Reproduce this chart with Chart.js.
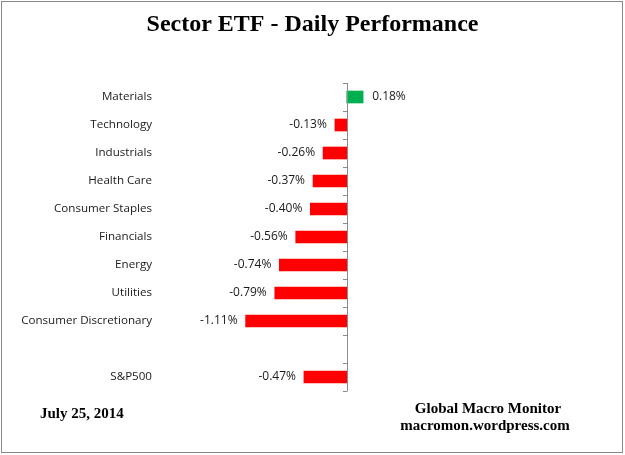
<!DOCTYPE html>
<html>
<head>
<meta charset="utf-8">
<title>Sector ETF - Daily Performance</title>
<script src="https://cdn.jsdelivr.net/npm/chart.js@4.4.1/dist/chart.umd.min.js"></script>
<style>
  html, body { margin: 0; padding: 0; background: #fff; }
  #wrap { width: 625px; height: 455px; position: relative; }
</style>
</head>
<body>
<div id="wrap"><canvas id="sectorChart" width="625" height="455"></canvas></div>
<script>
const titleText = "Sector ETF - Daily Performance";
const dateText = "July 25, 2014";
const sourceLines = ["Global Macro Monitor", "macromon.wordpress.com"];

// blank slot before S&P500 is on purpose (gap in the original)
const sectors = ["Materials", "Technology", "Industrials", "Health Care", "Consumer Staples",
  "Financials", "Energy", "Utilities", "Consumer Discretionary", "", "S&P500"];
const changes = [0.18, -0.13, -0.26, -0.37, -0.40, -0.56, -0.74, -0.79, -1.11, null, -0.47];

const upColor = "#00b050";
const downColor = "#ff0000";
const labelFont = "'Open Sans', 'DejaVu Sans', sans-serif";
const serifFont = "'Liberation Serif', 'Times New Roman', serif";

const decorPlugin = {
  id: "decor",
  afterDatasetsDraw(chart) {
    const ctx = chart.ctx;
    const meta = chart.getDatasetMeta(0);
    ctx.save();
    ctx.font = "12px " + labelFont;
    ctx.fillStyle = "#1a1a1a";
    ctx.textBaseline = "middle";
    meta.data.forEach((bar, i) => {
      const v = changes[i];
      if (v === null) return;
      const txt = v.toFixed(2) + "%";
      if (v < 0) {
        ctx.textAlign = "right";
        ctx.fillText(txt, bar.x - 8, bar.y);
      } else {
        ctx.textAlign = "left";
        ctx.fillText(txt, bar.x + 9, bar.y);
      }
    });
    ctx.restore();
  },
  afterDraw(chart) {
    const ctx = chart.ctx;
    const x = chart.scales.x;
    const y = chart.scales.y;
    const x0 = x.getPixelForValue(0);
    const n = sectors.length;
    const step = (y.bottom - y.top) / n;

    ctx.save();
    // zero axis with tick marks between categories
    ctx.strokeStyle = "#8c8c8c";
    ctx.lineWidth = 1;
    ctx.beginPath();
    ctx.moveTo(Math.round(x0) + 0.5, y.top);
    ctx.lineTo(Math.round(x0) + 0.5, y.bottom);
    for (let i = 0; i <= n; i++) {
      const ty = Math.round(y.top + i * step) + 0.5;
      ctx.moveTo(Math.round(x0) - 4, ty);
      ctx.lineTo(Math.round(x0) + 0.5, ty);
    }
    ctx.stroke();

    // outer frame
    ctx.strokeStyle = "#888888";
    ctx.strokeRect(1.5, 1.5, chart.width - 4, chart.height - 4);

    // title
    ctx.fillStyle = "#000";
    ctx.textAlign = "center";
    ctx.textBaseline = "middle";
    ctx.font = "bold 24px " + serifFont;
    ctx.fillText(titleText, chart.width / 2, 25);

    // footer
    ctx.font = "bold 15px " + serifFont;
    ctx.textAlign = "left";
    ctx.fillText(dateText, 40, 414);
    ctx.textAlign = "center";
    ctx.fillText(sourceLines[0], 488, 409);
    ctx.fillText(sourceLines[1], 485, 426);
    ctx.restore();
  }
};

new Chart(document.getElementById("sectorChart"), {
  type: "bar",
  data: {
    labels: sectors,
    datasets: [{
      data: changes,
      backgroundColor: changes.map(v => v >= 0 ? upColor : downColor),
      barThickness: 12,
      borderWidth: 0
    }]
  },
  options: {
    indexAxis: "y",
    responsive: false,
    animation: false,
    layout: { padding: { top: 83, bottom: 64, left: 0, right: 5 } },
    plugins: {
      legend: { display: false },
      tooltip: { enabled: false },
      title: { display: false }
    },
    scales: {
      x: {
        display: false,
        min: -2.05,
        max: 3.0
      },
      y: {
        grid: { display: false },
        border: { display: false },
        ticks: {
          color: "#1a1a1a",
          padding: 0,
          font: { family: labelFont, size: 11.6 }
        },
        afterFit(scale) {
          scale.width = 160;
        }
      }
    }
  },
  plugins: [decorPlugin]
});
</script>
</body>
</html>
